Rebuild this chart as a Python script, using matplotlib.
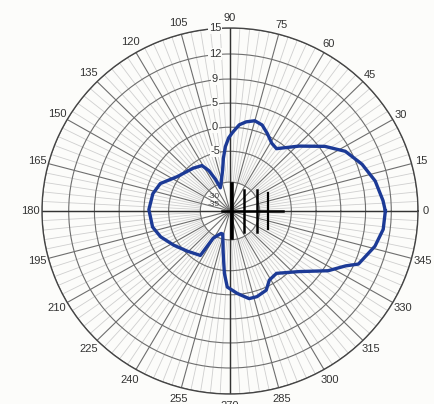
import numpy as np
import matplotlib.pyplot as plt

plt.rcParams['font.family'] = ['Liberation Sans', 'DejaVu Sans']

# Angle labels (deg) around the rim
angle_labels = list(range(0, 360, 15))

# Rings (chart radius units, outer ring = 190) and their dB labels
ring_r = [30, 62, 87, 112, 137, 163, 190]
ring_labels = ['', '-5', '0', '5', '9', '12', '15']
center_labels = ['-30', '-35']

# Radiation pattern (angle deg, chart radius units)
pattern_deg = [0, 4, 12, 20, 28, 35, 44, 54, 59, 65, 70, 75, 80, 84, 88, 91, 94, 97,
               100, 106, 112, 114, 117, 121, 130, 146, 158, 167, 179, 192, 201, 212,
               224, 237, 239, 244, 249, 253, 261, 265, 268, 275, 282, 287, 294, 299,
               306, 318, 328, 334, 337, 346, 353, 360]
pattern_r = [157, 155, 150, 142, 132, 117, 97, 80, 82, 89, 95, 97, 94, 90, 82, 76, 67, 55,
             43, 32, 26, 36, 47, 55, 58, 64, 76, 80, 82, 80, 75, 67,
             60, 55, 33, 28, 25, 25, 44, 65, 79, 86, 93, 93, 90, 82,
             80, 94, 117, 130, 141, 151, 156, 157]

# Scale marks (ruler) drawn on the 0 deg axis
ruler_x = [2, 14, 27, 38]
ruler_half = [28, 22, 22, 19]
ruler_lw = [2.6, 1.8, 1.8, 1.6]
ruler_span = (-8, 54)

fig = plt.figure(figsize=(4.35, 4.04), dpi=100, facecolor='#fcfcfa')
rect = [42 / 435, 10 / 404, 376 / 435, 366 / 404]
ax = fig.add_axes(rect, projection='polar')
ax.set_aspect('auto')
ax.set_facecolor('#fcfcfa')
ax.set_theta_zero_location('E')
ax.set_ylim(0, 190)

# fine spokes every 3 deg
for a in range(0, 360, 3):
    if a % 15:
        ax.plot([np.deg2rad(a)] * 2, [ring_r[0], 190], color='#cfcfcf', lw=0.6, zorder=1)

ax.set_rgrids(ring_r, labels=[])
ax.set_thetagrids(angle_labels, labels=[])
ax.grid(True, color='#6e6e6e', lw=0.8)
ax.spines['polar'].set_color('#444444')
ax.spines['polar'].set_linewidth(1.0)

# main cross axes
for a in (0, 90, 180, 270):
    ax.plot([np.deg2rad(a)] * 2, [0, 190], color='#333333', lw=1.0, zorder=2)

# rim labels
for a in angle_labels:
    t = np.deg2rad(a)
    d = 5 + 2.3 * len(str(a))
    ax.annotate(str(a), xy=(t, 190), xytext=(np.cos(t) * d, np.sin(t) * d),
                textcoords='offset pixels', ha='center', va='center',
                fontsize=8, color='#333333', annotation_clip=False)

# ring labels on the 90 deg line
for r, lab in zip(ring_r, ring_labels):
    if lab:
        ax.annotate(lab, xy=(np.pi / 2, r), xytext=(-15, 0), textcoords='offset pixels',
                    ha='center', va='center', fontsize=8, color='#333333',
                    bbox=dict(boxstyle='square,pad=0.05', fc='#fcfcfa', ec='none'))

# pattern
ax.plot(np.deg2rad(pattern_deg), pattern_r, color='#1c3a96', lw=2.4, zorder=5)

# overlay for ruler marks
ov = fig.add_axes(rect)
ov.set_xlim(-190, 190)
ov.set_ylim(-190, 190)
ov.axis('off')
ov.patch.set_alpha(0)
ov.plot(ruler_span, [0, 0], color='black', lw=1.8, zorder=6)
for x, h, lw in zip(ruler_x, ruler_half, ruler_lw):
    ov.plot([x, x], [-h, h], color='black', lw=lw, zorder=6)
for i, lab in enumerate(center_labels):
    ov.text(-16, 15 - 8 * i, lab, ha='center', va='center', fontsize=6, color='#444444')

fig.savefig('out.png', dpi=100, facecolor=fig.get_facecolor())
